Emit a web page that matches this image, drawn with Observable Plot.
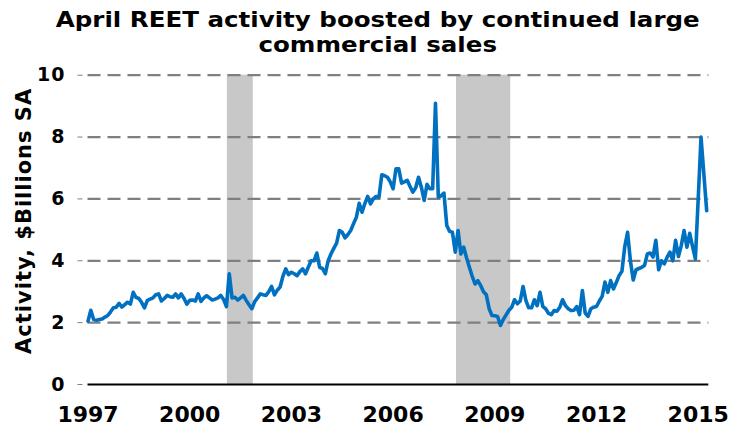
<!DOCTYPE html>
<html>
<head>
<meta charset="utf-8">
<script src="https://cdn.jsdelivr.net/npm/d3@7"></script>
<script src="https://cdn.jsdelivr.net/npm/@observablehq/plot@0.6"></script>
<style>
  html, body { margin: 0; padding: 0; background: #fff; }
  #wrap { width: 745px; height: 426px; position: relative; overflow: hidden; font-family: "DejaVu Sans", Verdana, sans-serif; }
  #title { box-sizing: border-box; width: 745px; height: 62px; padding-top: 7px; padding-left: 11px; text-align: center; font-size: 22px; font-weight: bold; line-height: 25px; color: #000; }
  #title span { display: inline-block; transform: scaleX(1.115); transform-origin: 50% 50%; white-space: nowrap; }
  #chart svg { display: block; }
</style>
</head>
<body>
<div id="wrap">
  <div id="title"><span>April REET activity boosted by continued large<br>commercial sales</span></div>
  <div id="chart"></div>
</div>
<script>
// Monthly REET activity, $Billions SA, Jan 1997 – Apr 2015
const startYear = 1997;
const values = [
  2.05, 2.4, 2.1, 2.08, 2.1, 2.12, 2.18, 2.23, 2.35, 2.48,
  2.5, 2.62, 2.5, 2.58, 2.66, 2.6, 2.98, 2.82, 2.78, 2.65,
  2.48, 2.72, 2.76, 2.8, 2.9, 2.93, 2.7, 2.78, 2.88, 2.84,
  2.82, 2.93, 2.8, 2.93, 2.78, 2.6, 2.72, 2.73, 2.7, 2.93,
  2.69, 2.8, 2.87, 2.8, 2.73, 2.76, 2.8, 2.88, 2.75, 2.52,
  3.58, 2.8, 2.82, 2.73, 2.8, 2.88, 2.72, 2.58, 2.45, 2.68,
  2.8, 2.93, 2.9, 2.88, 3.0, 3.17, 2.9, 3.05, 3.15, 3.5,
  3.74, 3.55, 3.63, 3.58, 3.52, 3.65, 3.74, 3.58, 3.8, 4.0,
  4.0, 4.25, 3.79, 3.75, 3.58, 4.0, 4.22, 4.4, 4.57, 4.98,
  4.92, 4.74, 4.85, 4.98, 5.2, 5.41, 5.86, 5.57, 5.85, 6.08,
  5.84, 6.0, 6.08, 6.06, 6.78, 6.75, 6.7, 6.55, 6.33, 6.97,
  6.97, 6.51, 6.55, 6.6, 6.4, 6.22, 6.36, 6.7, 6.38, 5.95,
  6.47, 6.33, 6.33, 9.09, 6.06, 6.1, 6.19, 5.14, 4.95, 4.92,
  4.28, 4.98, 4.22, 4.44, 4.1, 3.79, 3.5, 3.25, 3.36, 3.2,
  3.0, 2.9, 2.45, 2.23, 2.22, 2.2, 1.91, 2.1, 2.25, 2.4,
  2.5, 2.74, 2.61, 2.7, 3.17, 2.72, 2.48, 2.48, 2.74, 2.55,
  2.98, 2.52, 2.45, 2.3, 2.26, 2.39, 2.37, 2.5, 2.74, 2.55,
  2.45, 2.39, 2.4, 2.52, 2.26, 3.04, 2.31, 2.2, 2.45, 2.5,
  2.52, 2.7, 2.85, 3.31, 2.98, 3.36, 3.09, 3.3, 3.52, 3.66,
  4.46, 4.92, 4.0, 3.38, 3.71, 3.75, 3.79, 3.85, 4.22, 4.25,
  4.12, 4.66, 3.71, 4.0, 3.9, 4.12, 4.28, 4.0, 4.66, 4.14,
  4.49, 4.98, 4.44, 4.89, 4.46, 4.06, 6.0, 8.0, 6.8, 5.62
];
// Recession periods (decimal years)
const recessionStart = [2001.11, 2007.87];
const recessionEnd = [2001.875, 2009.47];
const xTicks = [1997, 2000, 2003, 2006, 2009, 2012, 2015];
const yTicks = [0, 2, 4, 6, 8, 10];
const gridTicks = [2, 4, 6, 8, 10];
const yLabel = "Activity, $Billions SA";

const series = values.map((v, i) => ({year: startYear + i / 12, value: v}));
const recessions = recessionStart.map((s, i) => ({start: s, end: recessionEnd[i]}));

const font = "DejaVu Sans, Verdana, sans-serif";
const chart = Plot.plot({
  width: 745,
  height: 364,
  marginLeft: 87.5,
  marginRight: 36.7,
  marginTop: 12.7,
  marginBottom: 42,
  style: {fontFamily: font, background: "#fff", color: "#000", overflow: "visible"},
  x: {domain: [1997, 2015.3125], axis: null},
  y: {domain: [0, 10], axis: null},
  marks: [
    Plot.rect(recessions, {x1: "start", x2: "end", y1: () => yTicks[0], y2: () => yTicks[yTicks.length - 1], fill: "#c8c8c8"}),
    Plot.gridY(gridTicks, {stroke: "#7f7f7f", strokeOpacity: 1, strokeWidth: 2.2, strokeDasharray: "13,7"}),
    Plot.ruleY([0], {stroke: "#000", strokeWidth: 2}),
    Plot.line(series, {x: "year", y: "value", stroke: "#0070c0", strokeWidth: 3.6, strokeLinejoin: "round"}),
    Plot.axisX(xTicks, {tickSize: 0, tickPadding: 21.5, tickFormat: d => String(d), fontSize: 22, fontWeight: "bold", fontFamily: font, fill: "#000", label: null}),
    Plot.axisY(yTicks, {tickSize: 5, tickPadding: 12.5, dx: -5, stroke: "#7f7f7f", fontSize: 19, fontWeight: "bold", fontFamily: font, fill: "#000", label: null}),
    Plot.text([yLabel], {frameAnchor: "left", textAnchor: "middle", rotate: -90, dx: -63.5, dy: -9, fontSize: 21, fontWeight: "bold", fontFamily: font, fill: "#000"})
  ]
});
document.getElementById("chart").appendChild(chart);
// slight letter spacing on the vertical axis title to match the reference's wide face
d3.select(chart).selectAll("text").filter(function() { return this.textContent === yLabel; }).attr("letter-spacing", "1px");
d3.select(chart).selectAll("g[aria-label='y-axis tick label'] text").attr("letter-spacing", "1px");
</script>
</body>
</html>
